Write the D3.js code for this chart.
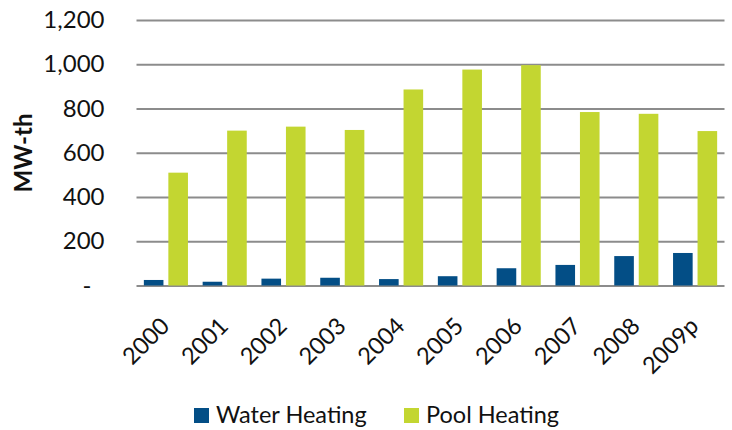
<!DOCTYPE html>
<html>
<head>
<meta charset="utf-8">
<script src="https://cdn.jsdelivr.net/npm/d3@7"></script>
<style>
  body { margin: 0; background: #fff; }
  svg { display: block; font-family: Lato, "Open Sans", sans-serif; }
</style>
</head>
<body>
<div id="chart"></div>
<script>
// categories and the two series
var years = ['2000', '2001', '2002', '2003', '2004', '2005', '2006', '2007', '2008', '2009p'];
var waterHeating = [25, 17, 31, 35, 29, 42, 78, 93, 133, 147];
var poolHeating = [510, 700, 718, 703, 886, 976, 996, 784, 776, 698];
var yTicks = [0, 200, 400, 600, 800, 1000, 1200];
var seriesNames = ['Water Heating', 'Pool Heating'];
var seriesColors = ['#034e86', '#c3d631'];

var width = 732;
var height = 430;
var margin = { top: 20, bottom: 144.5, left: 136.5, right: 7.5 };

// rows for the grouped bars
var data = years.map(function (y, i) {
  return { year: y, values: [waterHeating[i], poolHeating[i]] };
});

var svg = d3.select('#chart')
  .append('svg')
  .attr('width', width)
  .attr('height', height);

var x = d3.scaleBand()
  .domain(years)
  .range([margin.left, width - margin.right]);

// position of the two bars inside a year
var xSeries = d3.scaleBand()
  .domain([0, 1])
  .range([0, x.bandwidth()])
  .paddingInner(0.2)
  .paddingOuter(0.3);

var y = d3.scaleLinear()
  .domain([0, 1200])
  .range([height - margin.bottom, margin.top]);

//y axis with gridlines across the plot
var yAxis = svg.append('g')
  .attr('transform', 'translate(' + margin.left + ',0)')
  .call(d3.axisLeft(y)
    .tickValues(yTicks)
    .tickSize(-(width - margin.left - margin.right))
    .tickPadding(32)
    .tickFormat(function (d) { return d === 0 ? '-' : d3.format(',')(d); }));

yAxis.select('.domain').remove();
yAxis.selectAll('.tick line')
  .attr('stroke', '#8c8c8c')
  .attr('stroke-width', 1.8);
yAxis.selectAll('.tick text')
  .attr('font-family', 'Lato, sans-serif')
  .attr('font-size', '24px')
  .attr('fill', '#111');
// the zero label is a dash that sits further left (accounting format)
yAxis.selectAll('.tick text').filter(function (d) { return d === 0; })
  .attr('x', -45);

// bars
svg.append('g')
  .selectAll('g')
  .data(data)
  .join('g')
  .attr('transform', function (d) { return 'translate(' + x(d.year) + ',0)'; })
  .selectAll('rect')
  .data(function (d) { return d.values; })
  .join('rect')
  .attr('x', function (d, i) { return xSeries(i); })
  .attr('y', function (d) { return y(d); })
  .attr('width', xSeries.bandwidth())
  .attr('height', function (d) { return y(0) - y(d); })
  .attr('fill', function (d, i) { return seriesColors[i]; });

// x axis labels, rotated
var xAxis = svg.append('g')
  .attr('transform', 'translate(0,' + y(0) + ')')
  .call(d3.axisBottom(x).tickSize(0).tickPadding(0));
xAxis.select('.domain').remove();
xAxis.selectAll('.tick text')
  .attr('font-family', 'Lato, sans-serif')
  .attr('font-size', '23.5px')
  .attr('fill', '#111')
  .attr('text-anchor', 'end')
  .attr('dy', 0)
  .attr('y', 0)
  .attr('transform', 'translate(5,42) rotate(-45)');

// y axis title
svg.append('text')
  .attr('transform', 'translate(32,153) rotate(-90)')
  .attr('text-anchor', 'middle')
  .attr('font-family', 'Lato, sans-serif')
  .attr('font-weight', 'bold')
  .attr('font-size', '24px')
  .attr('fill', '#111')
  .text('MW-th');

// legend
var legendX = [194, 404];
var legend = svg.append('g')
  .selectAll('g')
  .data(seriesNames)
  .join('g')
  .attr('transform', function (d, i) { return 'translate(' + legendX[i] + ',408)'; });

legend.append('rect')
  .attr('width', 15)
  .attr('height', 15)
  .attr('fill', function (d, i) { return seriesColors[i]; });

legend.append('text')
  .attr('x', 22)
  .attr('y', 15)
  .attr('font-family', 'Lato, sans-serif')
  .attr('font-size', '23.5px')
  .attr('fill', '#111')
  .text(function (d) { return d; });
</script>
</body>
</html>
